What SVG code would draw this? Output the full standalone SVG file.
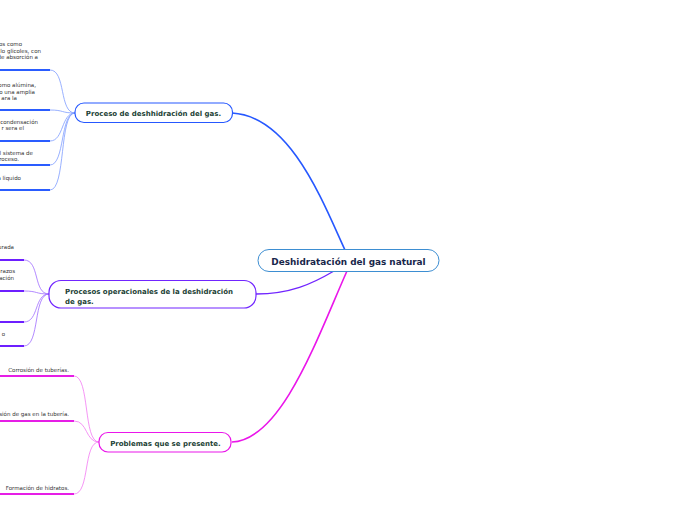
<svg xmlns="http://www.w3.org/2000/svg" width="696" height="520" viewBox="0 0 696 520">
<style>
.node rect{fill:#fff;}
.nt{font-family:"DejaVu Sans",Verdana,sans-serif;font-weight:bold;fill:#1d4236;font-size:7px;}
.ct{font-family:"DejaVu Sans",Verdana,sans-serif;font-weight:bold;fill:#18264a;font-size:8.9px;}
.st{font-family:"DejaVu Sans",Verdana,sans-serif;fill:#333;font-size:5.5px;}
.c{fill:none;}
.b1{stroke:#2658ff;}
.b2{stroke:#7125ff;}
.b3{stroke:#ea16ea;}
.s1{stroke:#7d9cff;stroke-width:0.8;}
.s2{stroke:#9f6cff;stroke-width:0.8;}
.s3{stroke:#f27af2;stroke-width:0.8;}
.l1{stroke:#2a5cff;stroke-width:1.8;}
.l2{stroke:#6d1fff;stroke-width:1.8;}
.l3{stroke:#e61ee6;stroke-width:1.8;}
</style>
<rect width="696" height="520" fill="#fff"/>
<g id="connectors">
<path class="c b1" stroke-width="1.6" d="M232,113 C290,116 322,200 345,250"/>
<path class="c b2" stroke-width="1.4" d="M256,294 C290,294 312,284 334,271"/>
<path class="c b3" stroke-width="1.6" d="M232,442 C282,440 318,336 347,271"/>
<path class="c s1" d="M50,70 C66,70 59,113 75,113"/>
<path class="c s1" d="M50,110 C64,110 61,113 75,113"/>
<path class="c s1" d="M50,141 C64,141 61,113 75,113"/>
<path class="c s1" d="M50,165 C65,165 60,113 75,113"/>
<path class="c s1" d="M50,190 C66,190 59,113 75,113"/>
<path class="c l1" d="M0,70 H50 M0,110 H50 M0,141 H50 M0,165 H50 M0,190 H50"/>
<path class="c s2" d="M24,260 C40,260 33,294 49,294"/>
<path class="c s2" d="M24,291 C38,291 35,294 49,294"/>
<path class="c s2" d="M24,322 C39,322 34,294 49,294"/>
<path class="c s2" d="M24,346 C40,346 33,294 49,294"/>
<path class="c l2" d="M0,260 H24 M0,291 H24 M0,322 H24 M0,346 H24"/>
<path class="c s3" d="M74,376 C90,376 83,442 99,442"/>
<path class="c s3" d="M74,421 C88,421 85,442 99,442"/>
<path class="c s3" d="M74,494 C90,494 83,442 99,442"/>
<path class="c l3" d="M0,376 H74 M0,421 H74 M0,494 H74"/>
</g>
<g id="n-main" class="node">
<rect x="258" y="249.5" width="181" height="22" rx="11" stroke="#3d8ed2" stroke-width="1"/>
<text class="ct" x="348.5" y="264.5" text-anchor="middle">Deshidratación del gas natural</text>
</g>
<g id="n-proceso" class="node">
<rect x="75" y="103" width="157.5" height="19.5" rx="9" stroke="#2658ff" stroke-width="1.2"/>
<text class="nt" x="153.5" y="116" text-anchor="middle">Proceso de deshhidración del gas.</text>
</g>
<g id="n-operacionales" class="node">
<rect x="49" y="280.5" width="207" height="27.5" rx="12" stroke="#7125ff" stroke-width="1.2"/>
<text class="nt" x="65" y="294">Procesos operacionales de la deshidración</text>
<text class="nt" x="65" y="303.5">de gas.</text>
</g>
<g id="n-problemas" class="node">
<rect x="99" y="432.5" width="132" height="19.5" rx="9" stroke="#ea16ea" stroke-width="1.2"/>
<text class="nt" x="165.5" y="445.5" text-anchor="middle">Problemas que se presente.</text>
</g>
<g id="t-proceso">
<text class="st" x="22" y="46" text-anchor="end">os como</text>
<text class="st" x="41" y="52.5" text-anchor="end">lo glicoles, con</text>
<text class="st" x="38" y="59" text-anchor="end">de absorción a</text>
<text class="st" x="36" y="87" text-anchor="end">omo alúmina,</text>
<text class="st" x="35" y="93.5" text-anchor="end">o una amplia</text>
<text class="st" x="17" y="100" text-anchor="end">ara la</text>
<text class="st" x="38" y="123.5" text-anchor="end">condensación</text>
<text class="st" x="24" y="130" text-anchor="end">r sera el</text>
<text class="st" x="33" y="154.5" text-anchor="end">l sistema de</text>
<text class="st" x="19" y="161" text-anchor="end">roceso.</text>
<text class="st" x="21" y="180" text-anchor="end">a liquido</text>
</g>
<g id="t-operacionales">
<text class="st" x="14" y="249" text-anchor="end">urada</text>
<text class="st" x="15" y="273" text-anchor="end">razos</text>
<text class="st" x="14" y="280" text-anchor="end">ación</text>
<text class="st" x="5" y="336" text-anchor="end">o</text>
</g>
<g id="t-problemas">
<text class="st" x="69" y="372" text-anchor="end">Corrosión de tuberías.</text>
<text class="st" x="69" y="416" text-anchor="end">sión de gas en la tubería.</text>
<text class="st" x="69" y="490" text-anchor="end">Formación de hidratos.</text>
</g>
</svg>
